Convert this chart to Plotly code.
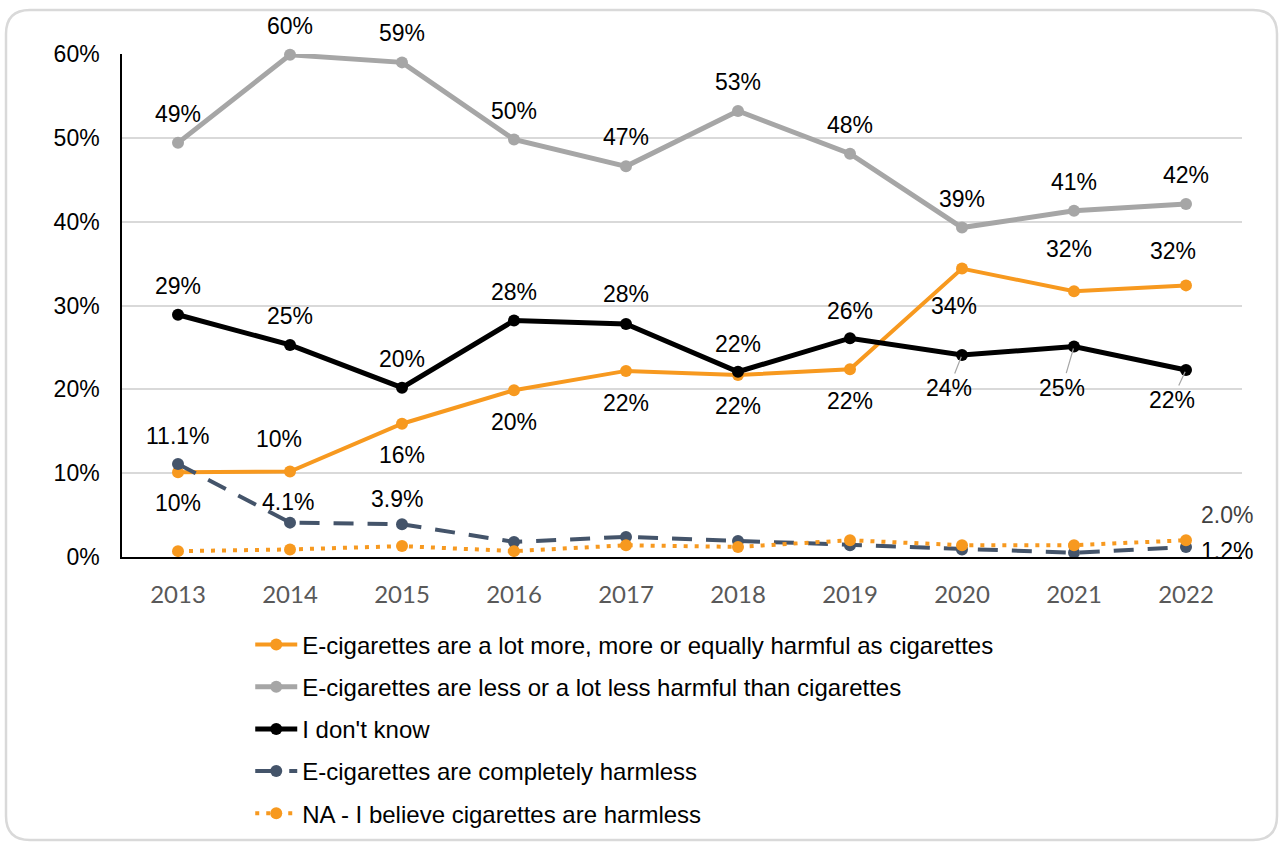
import plotly.graph_objects as go

# Survey years
years = [2013, 2014, 2015, 2016, 2017, 2018, 2019, 2020, 2021, 2022]

# Share of respondents (%) per answer
more_harmful = [10.1, 10.2, 15.9, 19.9, 22.2, 21.7, 22.4, 34.4, 31.7, 32.4]
less_harmful = [49.4, 59.9, 59.0, 49.8, 46.6, 53.2, 48.1, 39.3, 41.3, 42.1]
dont_know = [28.9, 25.3, 20.2, 28.2, 27.8, 22.1, 26.1, 24.1, 25.1, 22.3]
harmless = [11.1, 4.1, 3.9, 1.8, 2.4, 1.9, 1.4, 0.9, 0.5, 1.2]
cig_harmless = [0.7, 0.9, 1.3, 0.7, 1.4, 1.2, 2.0, 1.4, 1.4, 2.0]

series_names = [
    "E-cigarettes are a lot more, more or equally harmful as cigarettes",
    "E-cigarettes are less or a lot less harmful than cigarettes",
    "I don't know",
    "E-cigarettes are completely harmless",
    "NA - I believe cigarettes are harmless",
]

ORANGE = "#F7991F"
GREY = "#A6A6A6"
BLACK = "#000000"
SLATE = "#44546A"

LABEL_FONT = dict(family="Liberation Sans, Arial, sans-serif", size=23, color="#000000")

fig = go.Figure()

traces = [
    (more_harmful, series_names[0], dict(color=ORANGE, width=4), 12),
    (less_harmful, series_names[1], dict(color=GREY, width=5), 12),
    (dont_know, series_names[2], dict(color=BLACK, width=5), 12),
    (harmless, series_names[3], dict(color=SLATE, width=4, dash="20px,14px"), 12),
    (cig_harmless, series_names[4], dict(color=ORANGE, width=4, dash="4px,7px"), 12),
]
for i, (vals, name, line, msize) in enumerate(traces):
    fig.add_trace(go.Scatter(
        x=years, y=vals, name=name, mode="lines+markers",
        line=line, marker=dict(size=msize, color=line["color"]),
        cliponaxis=False, legendgroup=f"g{i}",
    ))


def add_labels(vals, offsets, fmt="{:.0f}%", color="#000000", leaders=()):
    # offsets: {index: (dx, dy)} in screen pixels, dy positive = downward
    for idx, (dx, dy) in offsets.items():
        font = dict(LABEL_FONT, color=color)
        if idx in leaders:
            fig.add_annotation(
                x=years[idx], y=vals[idx], text=fmt.format(vals[idx]),
                showarrow=True, arrowhead=0, arrowwidth=1.2, arrowcolor="#A6A6A6",
                ax=dx, ay=dy, standoff=2, font=font,
            )
        else:
            fig.add_annotation(
                x=years[idx], y=vals[idx], text=fmt.format(vals[idx]),
                showarrow=False, xshift=dx, yshift=-dy, font=font,
            )


add_labels(less_harmful, {i: (0, -29) for i in range(10)})
add_labels(more_harmful, {0: (0, 31), 1: (-11, -32), 2: (0, 31), 3: (0, 32), 4: (0, 32),
                          5: (0, 31), 6: (0, 32), 7: (-8, 37), 8: (-5, -42), 9: (-13, -34)})
add_labels(dont_know, {0: (0, -29), 1: (0, -29), 2: (0, -29), 3: (0, -29), 4: (0, -30),
                       5: (0, -28), 6: (0, -27), 7: (-13, 33), 8: (-12, 41), 9: (-14, 30)},
           leaders=(7, 8, 9))
add_labels(harmless, {0: (0, -28), 1: (-2, -21), 2: (-5, -25), 9: (41, 4)}, fmt="{:.1f}%")
add_labels(cig_harmless, {9: (41, -25)}, fmt="{:.1f}%", color="#404040")

# Rounded outer frame, drawn in pixel units relative to the plot area
L, T = 122, 54
PLOT_H = 503
def px(x):
    return x - L
def py(y):
    return (T + PLOT_H) - y
x0, x1, y0, y1, r = 6, 1277, 10, 840, 24
path = (
    f"M {px(x0 + r)},{py(y0)} L {px(x1 - r)},{py(y0)} "
    f"Q {px(x1)},{py(y0)} {px(x1)},{py(y0 + r)} "
    f"L {px(x1)},{py(y1 - r)} Q {px(x1)},{py(y1)} {px(x1 - r)},{py(y1)} "
    f"L {px(x0 + r)},{py(y1)} Q {px(x0)},{py(y1)} {px(x0)},{py(y1 - r)} "
    f"L {px(x0)},{py(y0 + r)} Q {px(x0)},{py(y0)} {px(x0 + r)},{py(y0)} Z"
)
fig.add_shape(type="path", path=path, xref="paper", yref="paper",
              xsizemode="pixel", ysizemode="pixel", xanchor=0, yanchor=0,
              line=dict(color="#D9D9D9", width=2.5), layer="below")

fig.update_layout(
    width=1280, height=845,
    margin=dict(l=122, r=38, t=54, b=288, autoexpand=False),
    paper_bgcolor="white", plot_bgcolor="white",
    showlegend=True,
    legend=dict(
        x=0.1145, y=-0.13, xanchor="left", yanchor="top",
        font=dict(family="Liberation Sans, Arial, sans-serif", size=24, color="#000000"),
        tracegroupgap=8, itemwidth=42, bgcolor="rgba(0,0,0,0)",
    ),
    xaxis=dict(
        range=[2012.5, 2022.5], tickvals=years, ticktext=[str(y) for y in years],
        showgrid=False, zeroline=False, showline=True, linecolor="#000000", linewidth=1.5,
        ticks="", tickfont=dict(family="Lato, Carlito, sans-serif", size=24, color="#595959"),
        ticklabelstandoff=15,
    ),
    yaxis=dict(
        range=[0, 60], dtick=10, ticksuffix="%",
        showgrid=True, gridcolor="#D9D9D9", gridwidth=1.5, zeroline=False,
        showline=True, linecolor="#000000", linewidth=1.5, ticks="",
        tickfont=dict(family="Liberation Sans, Arial, sans-serif", size=23, color="#000000"),
        ticklabelstandoff=16,
    ),
)

fig.write_html("out.html")
